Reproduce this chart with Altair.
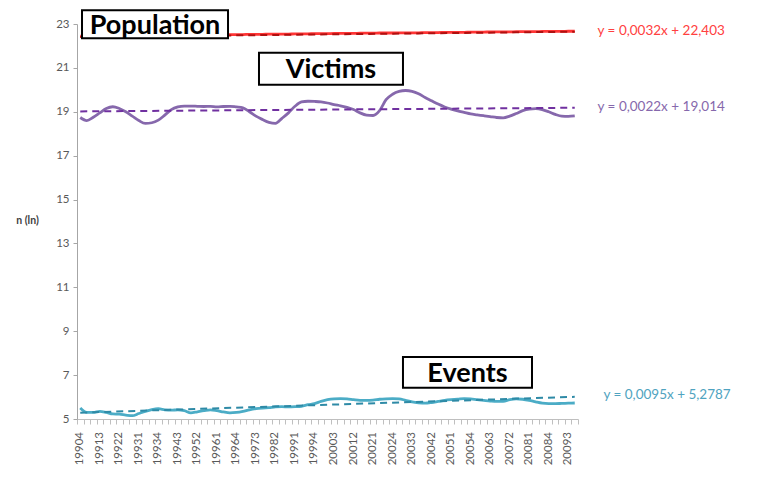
import altair as alt
import pandas as pd

# ---------------- data ----------------
quarter_labels = ["19904", "19913", "19922", "19931", "19934", "19943", "19952", "19961",
                  "19964", "19973", "19982", "19991", "19994", "20003", "20012", "20021",
                  "20024", "20033", "20042", "20051", "20054", "20063", "20072", "20081",
                  "20084", "20093"]

population = [22.45, 22.45, 22.45, 22.46, 22.46, 22.46, 22.47, 22.47, 22.47, 22.48, 22.48,
              22.48, 22.48, 22.49, 22.49, 22.49, 22.50, 22.50, 22.50, 22.51, 22.51, 22.51,
              22.51, 22.52, 22.52, 22.52, 22.53, 22.53, 22.53, 22.54, 22.54, 22.54, 22.54,
              22.55, 22.55, 22.55, 22.56, 22.56, 22.56, 22.57, 22.57, 22.57, 22.57, 22.58,
              22.58, 22.58, 22.59, 22.59, 22.59, 22.60, 22.60, 22.60, 22.60, 22.61, 22.61,
              22.61, 22.62, 22.62, 22.62, 22.62, 22.63, 22.63, 22.63, 22.64, 22.64, 22.64,
              22.64, 22.65, 22.65, 22.65, 22.65, 22.66, 22.66, 22.66, 22.66, 22.67, 22.67]

victims = [18.74, 18.60, 18.75, 18.95, 19.15, 19.23, 19.15, 19.00, 18.80, 18.60, 18.47,
           18.50, 18.62, 18.85, 19.10, 19.22, 19.26, 19.26, 19.25, 19.24, 19.25, 19.22,
           19.24, 19.25, 19.22, 19.18, 19.00, 18.80, 18.65, 18.52, 18.47, 18.70, 18.95,
           19.25, 19.45, 19.48, 19.47, 19.45, 19.40, 19.33, 19.27, 19.20, 19.10, 18.95,
           18.85, 18.83, 19.05, 19.55, 19.80, 19.93, 19.97, 19.93, 19.82, 19.65, 19.50,
           19.35, 19.22, 19.12, 19.04, 18.97, 18.90, 18.86, 18.82, 18.78, 18.74, 18.72,
           18.80, 18.92, 19.05, 19.12, 19.14, 19.10, 19.00, 18.88, 18.80, 18.79, 18.81]

events = [5.50, 5.30, 5.30, 5.35, 5.30, 5.23, 5.22, 5.18, 5.15, 5.25, 5.35,
          5.43, 5.47, 5.42, 5.40, 5.42, 5.38, 5.28, 5.33, 5.38, 5.42, 5.38,
          5.32, 5.28, 5.30, 5.35, 5.42, 5.47, 5.50, 5.52, 5.55, 5.56, 5.55,
          5.56, 5.58, 5.65, 5.70, 5.80, 5.88, 5.92, 5.93, 5.92, 5.88, 5.85,
          5.85, 5.86, 5.90, 5.92, 5.93, 5.92, 5.85, 5.78, 5.74, 5.72, 5.75,
          5.80, 5.85, 5.88, 5.90, 5.93, 5.92, 5.88, 5.85, 5.82, 5.80, 5.80,
          5.88, 5.92, 5.90, 5.85, 5.78, 5.72, 5.70, 5.70, 5.71, 5.72, 5.73]

series_names = ["Population", "Victims", "Events"]
slopes = [0.0032, 0.0022, 0.0095]
intercepts = [22.403, 19.014, 5.2787]
equation_texts = ["y = 0,0032x + 22,403", "y = 0,0022x + 19,014", "y = 0,0095x + 5,2787"]

# ---------------- styling / annotation placement ----------------
line_colors = ["#FF3535", "#8668AC", "#4BACC6"]
trend_colors = ["#B01010", "#7030A0", "#2E8AA6"]
eq_colors = ["#FF4040", "#8668AC", "#4FA3C0"]

eq_x = [79.5, 79.5, 80.4]
eq_y = [22.66, 19.24, 6.10]

box_x1 = [0.27, 27.47, 49.6]
box_x2 = [22.71, 49.6, 69.43]
box_y1 = [23.63, 21.69, 7.83]
box_y2 = [22.35, 20.23, 6.42]

FONT = "Lato"
LABEL_Y_PX = 408  # pixel row (inside plot frame) where rotated x labels end

# ---------------- build tables ----------------
n = len(victims)
rows = []
for name, vals, col in zip(series_names, [population, victims, events], line_colors):
    for i, v in enumerate(vals):
        rows.append({"series": name, "i": i, "value": v, "color": col})
df = pd.DataFrame(rows)

trend_df = pd.DataFrame({
    "series": series_names * 2,
    "i": [0] * 3 + [n - 1] * 3,
    "slope": slopes * 2,
    "intercept": intercepts * 2,
    "color": trend_colors * 2,
})

eq_df = pd.DataFrame({"text": equation_texts, "i": eq_x, "value": eq_y, "color": eq_colors})

box_df = pd.DataFrame({
    "label": series_names,
    "x1": box_x1, "x2": box_x2, "y1": box_y1, "y2": box_y2,
})
box_df["xc"] = (box_df["x1"] + box_df["x2"]) / 2
box_df["yc"] = (box_df["y1"] + box_df["y2"]) / 2

lab_df = pd.DataFrame({"label": quarter_labels, "i": [3 * k for k in range(len(quarter_labels))]})

x_scale = alt.Scale(domain=[-0.5, n - 0.5], nice=False, zero=False)
y_scale = alt.Scale(domain=[5, 23], nice=False, zero=False)

tick_vals = [k - 0.5 for k in range(n + 1)]

x_axis = alt.Axis(
    values=tick_vals, labels=False, tickSize=5, tickColor="#BFBFBF",
    domainColor="#BFBFBF", grid=False, title=None,
)
y_axis = alt.Axis(
    values=list(range(5, 24, 2)), title="n (ln)", titleAngle=0, titleX=-50, titleY=196,
    titleAlign="center", titleBaseline="middle", titleFont=FONT, titleFontWeight="bold",
    titleFontSize=10.5, titleColor="#404040", labelFont=FONT, labelFontSize=11.5,
    labelColor="#595959", labelPadding=4, tickSize=4, tickColor="#A6A6A6",
    domainColor="#A6A6A6", grid=False,
)


def X(field):
    return alt.X(field, scale=x_scale, axis=x_axis)


def Y(field):
    return alt.Y(field, scale=y_scale, axis=y_axis)


lines = alt.Chart(df).mark_line(interpolate="monotone", strokeWidth=2.8).encode(
    x=X("i:Q"),
    y=Y("value:Q"),
    color=alt.Color("color:N", scale=None),
    detail="series:N",
)

trends = alt.Chart(trend_df).transform_calculate(
    tv="datum.intercept + datum.slope * (datum.i + 1)"
).mark_line(strokeDash=[7, 5], strokeWidth=2).encode(
    x=X("i:Q"),
    y=Y("tv:Q"),
    color=alt.Color("color:N", scale=None),
    detail="series:N",
)

boxes = alt.Chart(box_df).mark_rect(fill="white", stroke="black", strokeWidth=2).encode(
    x=X("x1:Q"),
    x2="x2:Q",
    y=Y("y1:Q"),
    y2="y2:Q",
)

box_text = alt.Chart(box_df).mark_text(
    font=FONT, fontWeight="bold", fontSize=27, color="black", align="center",
    baseline="middle", dy=1.5
).encode(
    x=X("xc:Q"),
    y=Y("yc:Q"),
    text="label:N",
)

eq_text = alt.Chart(eq_df).mark_text(
    font=FONT, fontSize=13.5, align="left", baseline="middle"
).encode(
    x=X("i:Q"),
    y=Y("value:Q"),
    text="text:N",
    color=alt.Color("color:N", scale=None),
)

x_labels = alt.Chart(lab_df).mark_text(
    font=FONT, fontSize=11.5, color="#595959", angle=270, align="right", baseline="middle"
).encode(
    x=X("i:Q"),
    y=alt.value(LABEL_Y_PX),
    text="label:N",
)

chart = alt.layer(lines, trends, boxes, box_text, eq_text, x_labels).properties(
    width=501, height=395,
    padding={"left": 69, "top": 16, "right": 180, "bottom": 52},
    autosize=alt.AutoSizeParams(type="none"),
).configure_view(stroke=None)

chart.save("out.html", embed_options={"renderer": "svg", "actions": False})
